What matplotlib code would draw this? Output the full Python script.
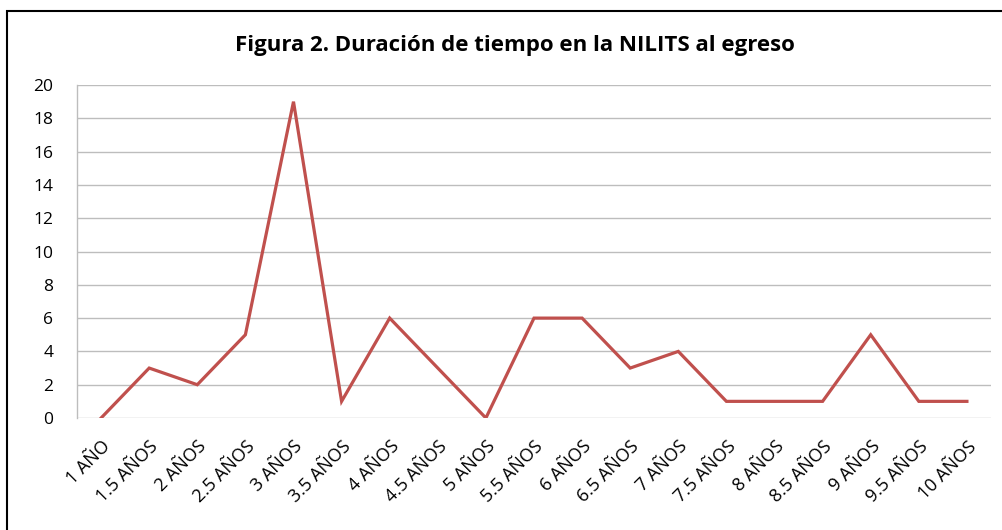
import matplotlib

matplotlib.use("Agg")
import matplotlib.pyplot as plt
from matplotlib.patches import Rectangle

categories = [
    "1 AÑO", "1.5 AÑOS", "2 AÑOS", "2.5 AÑOS", "3 AÑOS", "3.5 AÑOS", "4 AÑOS",
    "4.5 AÑOS", "5 AÑOS", "5.5 AÑOS", "6 AÑOS", "6.5 AÑOS", "7 AÑOS",
    "7.5 AÑOS", "8 AÑOS", "8.5 AÑOS", "9 AÑOS", "9.5 AÑOS", "10 AÑOS",
]
values = [0, 3, 2, 5, 19, 1, 6, 3, 0, 6, 6, 3, 4, 1, 1, 1, 5, 1, 1]
y_ticks = list(range(0, 21, 2))

plt.rcParams["font.family"] = ["Open Sans", "DejaVu Sans"]

fig = plt.figure(figsize=(10.03, 5.30), dpi=100)
ax = fig.add_axes([0.0768, 0.2113, 0.9112, 0.6283])

x = list(range(len(categories)))
ax.plot(x, values, color="#C0504D", linewidth=2.3, solid_joinstyle="miter")

ax.set_xlim(-0.5, len(categories) - 0.5)
ax.set_ylim(0, 20)
ax.set_yticks(y_ticks)
ax.set_xticks(x)
ax.set_xticklabels(categories, rotation=45, ha="right", rotation_mode="anchor")
ax.tick_params(axis="both", length=0, colors="#000000")
ax.tick_params(axis="x", pad=14, labelsize=13)
ax.tick_params(axis="y", pad=17, labelsize=12.5)

ax.grid(axis="y", color="#BDBDBD", linewidth=1.0)
ax.set_axisbelow(True)
for side in ("top", "right", "bottom"):
    ax.spines[side].set_visible(False)
ax.spines["left"].set_color("#BDBDBD")
ax.spines["left"].set_linewidth(1.0)

fig.text(0.513, 0.915, "Figura 2. Duración de tiempo en la NILITS al egreso",
         ha="center", va="center", fontsize=16, fontweight="bold")

fig.patches.append(Rectangle((0.007, -0.05), 1.05, 1.0292, transform=fig.transFigure,
                             fill=False, edgecolor="black", linewidth=1.5))

fig.savefig("out.png", dpi=100)
